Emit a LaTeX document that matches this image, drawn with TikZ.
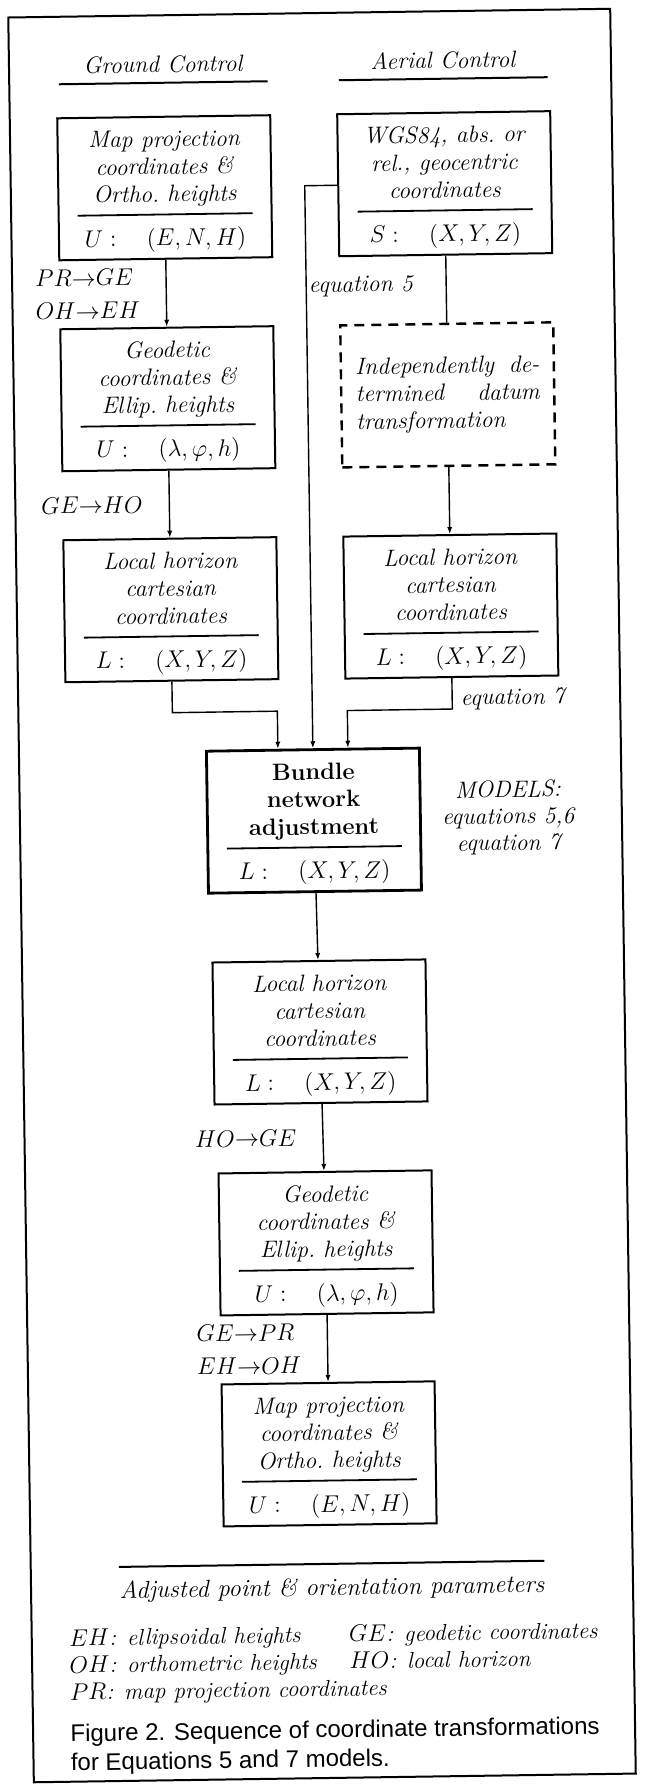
\documentclass[tikz,border=0pt]{standalone}
\usepackage{fontspec}
\newfontfamily\capfont{Liberation Sans}
\usetikzlibrary{arrows.meta, positioning, calc}

% box text: three lines, short rule, coordinate tuple
\newcommand{\crdbox}[2]{\rule{0pt}{11.6pt}#1\\[-7pt]\rule{87.5pt}{0.9pt}\\[1.5pt]$#2$}

\begin{document}
\begin{tikzpicture}[
    x=0.5pt, y=-0.5pt,
    node distance=33.5pt,
    crd/.style={rectangle, draw=black, line width=1pt, minimum width=106.5pt, minimum height=71pt, inner sep=2pt, align=center, font=\fontsize{11.8}{13.75}\selectfont\itshape},
    bundle/.style={crd, line width=1.4pt, font=\fontsize{11.8}{13.75}\selectfont\bfseries},
    datum/.style={crd, dash pattern=on 5pt off 3.5pt, line width=1.2pt, text width=92pt, align=left},
    head/.style={font=\fontsize{11.8}{13.75}\selectfont\itshape, minimum width=104pt, text height=8pt, text depth=0pt, inner ysep=5pt},
    trans/.style={font=\fontsize{11.8}{16.5}\selectfont, align=left, inner sep=0pt},
    note/.style={font=\fontsize{11.8}{13.25}\selectfont\itshape, align=center, inner sep=0pt},
    arr/.style={-{Latex[length=3.5pt, width=2.6pt]}, line width=0.7pt},
    link/.style={line width=0.7pt},
    rulel/.style={line width=1pt}
  ]
  \useasboundingbox (0,0) rectangle (647,1789);
  \begin{scope}[transform canvas={rotate around={0.83:(323.5,894.5)}}]
  \draw[line width=1pt] (21,13) rectangle (623,1778);

  % ground control column
  \node[crd] (gmap) at (175,185.5) {\crdbox{Map projection\\coordinates \&\\Ortho.\ heights}{U:\quad(E,N,H)}};
  \node[crd, below=of gmap] (ggeo) {\crdbox{Geodetic\\coordinates \&\\Ellip.\ heights}{U:\quad(\lambda,\varphi,h)}};
  \node[crd, below=of ggeo] (gloc) {\crdbox{Local horizon\\cartesian\\coordinates}{L:\quad(X,Y,Z)}};
  \node[head, above=16.5pt of gmap] (ghead) {Ground Control};
  \draw[rulel] (ghead.south west) -- (ghead.south east);

  % aerial control column
  \node[crd] (wgs) at (455,185.5) {\crdbox{WGS84, abs.\ or\\rel., geocentric\\coordinates}{S:\quad(X,Y,Z)}};
  \node[datum, below=of wgs] (datum) {Independently\hfill de-\\termined\hfill datum\\transformation};
  \node[crd, below=of datum] (aloc) {\crdbox{Local horizon\\cartesian\\coordinates}{L:\quad(X,Y,Z)}};
  \node[head, above=16.5pt of wgs] (ahead) {Aerial Control};
  \draw[rulel] (ahead.south west) -- (ahead.south east);

  % adjustment and back transformations
  \coordinate (join) at ($(gloc.south)!0.5!(aloc.south)$);
  \node[bundle, below=34.2pt of join] (bundle) {\crdbox{Bundle\\network\\adjustment}{L:\quad(X,Y,Z)}};
  \node[note, right=10pt of bundle] (models) {MODELS:\\equations 5,6\\equation 7};
  \node[crd, below=of bundle, xshift=1.5pt] (cloc) {\crdbox{Local horizon\\cartesian\\coordinates}{L:\quad(X,Y,Z)}};
  \node[crd, below=of cloc, xshift=1.5pt] (cgeo) {\crdbox{Geodetic\\coordinates \&\\Ellip.\ heights}{U:\quad(\lambda,\varphi,h)}};
  \node[crd, below=of cgeo] (cmap) {\crdbox{Map projection\\coordinates \&\\Ortho.\ heights}{U:\quad(E,N,H)}};
  \node[font=\fontsize{12.3}{14}\selectfont\itshape, inner xsep=0pt, inner ysep=7.5pt, text height=8pt, text depth=2.5pt, below=19pt of cmap, xshift=0.5pt] (adjusted) {Adjusted point \& orientation parameters};
  \draw[rulel] (adjusted.north west) -- (adjusted.north east);

  % connectors
  \draw[arr] (gmap) -- node[trans, left=13pt] {$PR{\rightarrow}GE$\\$OH{\rightarrow}EH$} (ggeo);
  \draw[arr] (ggeo) -- node[trans, left=13pt] {$GE{\rightarrow}HO$} (gloc);
  \draw[link] (wgs) -- (datum);
  \draw[arr] (datum) -- (aloc);
  \draw[arr] (wgs.west) -| node[note, right=1pt, pos=0.59] {equation 5} (bundle.north);
  \draw[arr] (gloc.south) -- ++(0,-15.5pt) -| ([xshift=-17.5pt]bundle.north);
  \draw[arr] (aloc.south) -- node[note, right=4pt, pos=0.7] {equation 7} ++(0,-15.5pt) -| ([xshift=17.5pt]bundle.north);
  \draw[arr] (bundle) -- (cloc);
  \draw[arr] (cloc) -- node[trans, left=13pt] {$HO{\rightarrow}GE$} (cgeo);
  \draw[arr] (cgeo) -- node[trans, left=13pt] {$GE{\rightarrow}PR$\\$EH{\rightarrow}OH$} (cmap);

  % abbreviations and caption
  \node[font=\fontsize{11.5}{13.5}\selectfont\itshape, inner sep=0pt, anchor=north west] (abbrev) at (58,1623) {%
    \begin{tabular}{@{}p{140pt}@{}l@{}}
      $EH$: ellipsoidal heights & $GE$: geodetic coordinates\\
      $OH$: orthometric heights & $HO$: local horizon\\
      \multicolumn{2}{@{}l@{}}{$PR$: map projection coordinates}
    \end{tabular}};
  \node[font=\capfont\fontsize{12}{14.5}\selectfont, align=left, inner sep=0pt, anchor=north west] (figcap) at (58,1720) {Figure 2. Sequence of coordinate transformations\\for Equations 5 and 7 models.};
  \end{scope}
\end{tikzpicture}
\end{document}
